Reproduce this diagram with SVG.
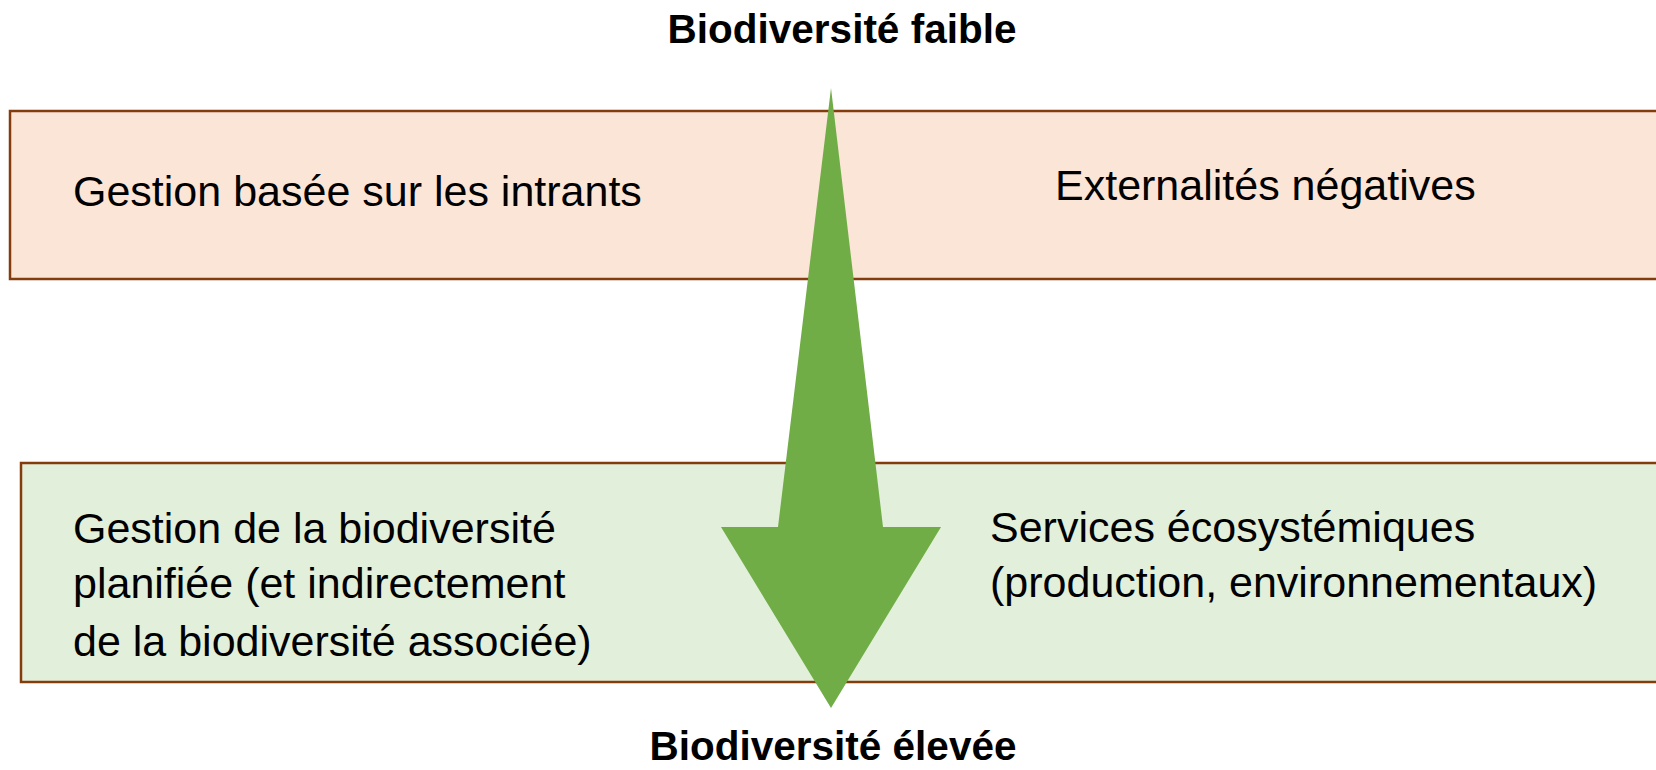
<svg xmlns="http://www.w3.org/2000/svg" width="1656" height="770" viewBox="0 0 1656 770">
<style>
.t{font-family:"Liberation Sans",Arial,sans-serif;font-size:43px;fill:#000}
.b{font-family:"Liberation Sans",Arial,sans-serif;font-size:40.5px;font-weight:bold;fill:#000}
.box{stroke:#843C0C;stroke-width:2.5}
</style>
<rect width="1656" height="770" fill="#fff"/>
<g id="top-band">
<rect class="box" x="10" y="111" width="1680" height="168" fill="#FBE5D6"/>
<text class="t" x="73" y="206">Gestion basée sur les intrants</text>
<text class="t" x="1055" y="200">Externalités négatives</text>
</g>
<g id="bottom-band">
<rect class="box" x="21" y="463" width="1680" height="219" fill="#E2EFDA"/>
<text class="t" x="73" y="543">Gestion de la biodiversité</text>
<text class="t" x="73" y="598">planifiée (et indirectement</text>
<text class="t" x="73" y="656">de la biodiversité associée)</text>
<text class="t" x="990" y="542">Services écosystémiques</text>
<text class="t" x="990" y="597">(production, environnementaux)</text>
</g>
<g id="connectors">
<polygon points="831,88 883,527 941,527 831,708 721,527 778,527" fill="#70AD47"/>
</g>
<g id="label-top">
<text class="b" x="842" y="43" text-anchor="middle">Biodiversité faible</text>
</g>
<g id="label-bottom">
<text class="b" x="833" y="760" text-anchor="middle">Biodiversité élevée</text>
</g>
</svg>
